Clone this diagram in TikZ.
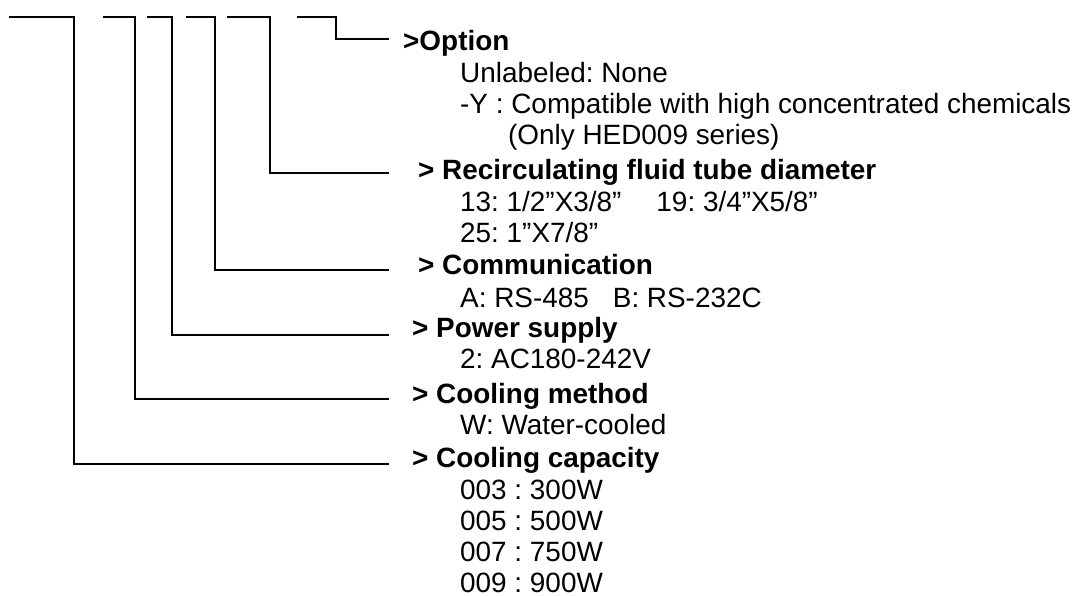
\documentclass[tikz,border=0pt]{standalone}
\usepackage{fontspec}
\setmainfont{Liberation Sans}
\frenchspacing
\begin{document}
\frenchspacing
\begin{tikzpicture}[x=1pt,y=-1pt]
\tikzset{
  lead/.style={line width=2pt, line cap=butt, line join=miter},
  head/.style={anchor=base west, inner sep=0pt, font=\fontsize{27.9pt}{31pt}\selectfont\bfseries\frenchspacing},
  item/.style={anchor=base west, inner sep=0pt, font=\fontsize{27.9pt}{31pt}\selectfont\frenchspacing}
}
\useasboundingbox (0,0) rectangle (1074,596);

% option
\node[head] (hOpt) at (403,51) {>Option};
\node[item] (o1) at (460,83) {Unlabeled: None};
\node[item] (o2) at (460,114) {-Y : Compatible with high concentrated chemicals};
\node[item] (o3) at (508,145) {(Only HED009 series)};
% tube diameter
\node[head] (hRec) at (418,180) {> Recirculating fluid tube diameter};
\node[item] (r1) at (460,212) {13: 1/2”X3/8”\hspace{35pt}19: 3/4”X5/8”};
\node[item] (r2) at (460,243) {25: 1”X7/8”};
% communication
\node[head] (hCom) at (418,275) {> Communication};
\node[item] (c1) at (460,307) {A: RS-485\hspace{24pt}B: RS-232C};
% power
\node[head] (hPow) at (412,337) {> Power supply};
\node[item] (p1) at (460,368) {2: AC180-242V};
% cooling method
\node[head] (hMet) at (412,403) {> Cooling method};
\node[item] (m1) at (460,434) {W: Water-cooled};
% cooling capacity
\node[head] (hCap) at (412,467) {> Cooling capacity};
\node[item] (k1) at (460,499) {003 : 300W};
\node[item] (k2) at (460,530) {005 : 500W};
\node[item] (k3) at (460,561) {007 : 750W};
\node[item] (k4) at (460,592) {009 : 900W};

% leader lines
\coordinate (s1) at (9,17);   \coordinate (b1) at (74,464);  \coordinate (e1) at (389,464);
\coordinate (s2) at (103,17); \coordinate (b2) at (135,399); \coordinate (e2) at (389,399);
\coordinate (s3) at (147,17); \coordinate (b3) at (172,335); \coordinate (e3) at (389,335);
\coordinate (s4) at (186,17); \coordinate (b4) at (215,270); \coordinate (e4) at (389,270);
\coordinate (s5) at (227,17); \coordinate (b5) at (270,173); \coordinate (e5) at (389,173);
\coordinate (s6) at (297,17); \coordinate (b6) at (336,39);  \coordinate (e6) at (389,39);

\draw[lead] (s1) -| (b1) -- (e1);
\draw[lead] (s2) -| (b2) -- (e2);
\draw[lead] (s3) -| (b3) -- (e3);
\draw[lead] (s4) -| (b4) -- (e4);
\draw[lead] (s5) -| (b5) -- (e5);
\draw[lead] (s6) -| (b6) -- (e6);
\end{tikzpicture}
\end{document}
